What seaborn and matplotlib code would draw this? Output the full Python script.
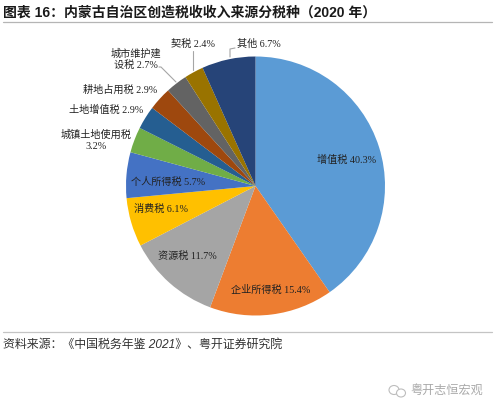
import matplotlib
matplotlib.use("Agg")
import matplotlib.pyplot as plt
from matplotlib.patches import Ellipse
import seaborn as sns

sns.set_theme(style="white")
plt.rcParams["font.family"] = ["Liberation Serif", "Noto Sans CJK SC"]

# Tax revenue shares, Inner Mongolia, 2020
tax_names = ["增值税", "企业所得税", "资源税", "消费税", "个人所得税", "城镇土地使用税",
             "土地增值税", "耕地占用税", "城市维护建\n设税", "契税", "其他"]
tax_shares = [40.3, 15.4, 11.7, 6.1, 5.7, 3.2, 2.9, 2.9, 2.7, 2.4, 6.7]
wedge_colors = ["#5B9BD5", "#ED7D31", "#A5A5A5", "#FFC000", "#4472C4", "#70AD47",
                "#255E91", "#9E480E", "#636363", "#997300", "#264478"]
title_text = "图表 16：内蒙古自治区创造税收收入来源分税种（2020 年）"
source_text = "资料来源：《中国税务年鉴 2021》、粤开证券研究院"
brand_text = "粤开志恒宏观"

# Label anchors in pixel coordinates (centre x, centre y)
label_xy = [(347, 160), (271, 290), (187, 256), (161, 209), (168, 182), (96, 140),
            (106, 110), (120, 90), (136, 59), (193, 44), (259, 44)]
label_sep = ["\n" if n == "城镇土地使用税" else " " for n in tax_names]

# Leader line paths for the outer labels
leaders = {
    8: [(176, 82), (161, 67), (159, 67)],
    9: [(193, 70), (193, 51)],
    10: [(230, 57), (230, 49), (235, 48)],
}

fig = plt.figure(figsize=(5.0, 4.13), dpi=100, facecolor="white")
ax = fig.add_axes([0, 0, 1, 1])

# With the y axis flipped below, counter-clockwise maths angles run clockwise on screen
ax.pie(tax_shares, colors=sns.color_palette(wedge_colors), startangle=-90,
       center=(255.5, 186), radius=129.5, wedgeprops={"linewidth": 0})
ax.set_xlim(0, 500)
ax.set_ylim(413, 0)
ax.set_aspect("equal")
ax.axis("off")

for name, share, sep, (x, y) in zip(tax_names, tax_shares, label_sep, label_xy):
    ax.text(x, y, f"{name}{sep}{share}%", ha="center", va="center", fontsize=7.3,
            color="#222222", linespacing=1.25, multialignment="center")

for path in leaders.values():
    xs, ys = zip(*path)
    ax.plot(xs, ys, color="#A6A6A6", lw=0.8, solid_capstyle="round")

sans = ["Liberation Sans", "Noto Sans CJK SC"]
ax.text(3, 12.5, title_text, ha="left", va="center", fontsize=10.0, fontweight="bold",
        family=sans, color="#1a1a1a")
ax.plot([3, 492], [22, 22], color="#B5B5B5", lw=0.9)
ax.plot([3, 492], [332, 332], color="#C4C4C4", lw=0.9)
ax.text(3, 345, source_text, ha="left", va="center", fontsize=8.6, style="italic",
        family=sans, color="#333333")

# Account mark and name in the lower right corner
ax.add_patch(Ellipse((394, 390), 10, 9, fill=False, ec="#BDBDBD", lw=0.8))
ax.add_patch(Ellipse((401, 393), 9, 8, facecolor="white", ec="#BDBDBD", lw=0.8))
ax.text(447, 391, brand_text, ha="center", va="center", fontsize=8.7,
        family=sans, color="#A8A8A8")

fig.savefig("out.png", dpi=100, facecolor="white")
